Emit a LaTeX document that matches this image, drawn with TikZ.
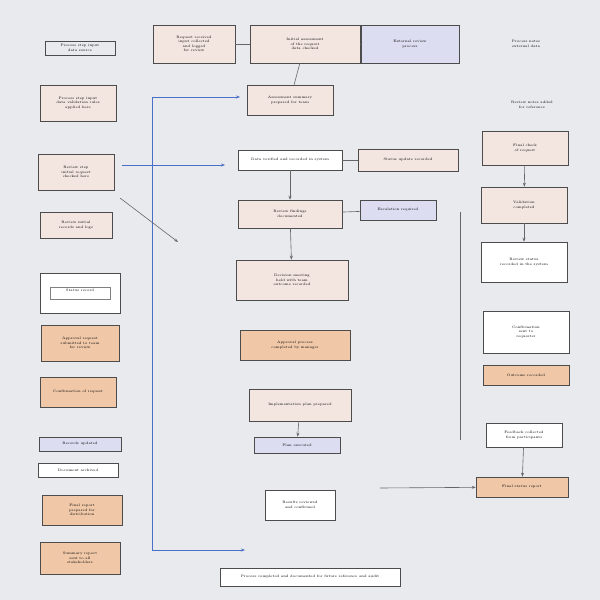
\documentclass[tikz,border=0pt]{standalone}
\usetikzlibrary{arrows.meta}
\definecolor{bg}{HTML}{E9EAEE}
\definecolor{pk}{HTML}{F3E6E0}
\definecolor{og}{HTML}{F0C8A8}
\definecolor{lv}{HTML}{DCDDF0}
\definecolor{bl}{HTML}{4A6FC8}
\tikzset{bx/.style={draw=black!70,line width=0.5pt,font=\fontsize{3.5}{4.5}\selectfont,align=center,inner sep=1pt},
lk/.style={draw=black!60,line width=0.6pt},
bk/.style={draw=bl,line width=0.8pt}}
\newcommand\bb[6]{\node[bx,fill=#5,minimum width=#3,minimum height=#4] (#1) at #2 {#6};}
\begin{document}
\begin{tikzpicture}[x=1pt,y=-1pt]
\fill[bg] (0,0) rectangle (600,600);
\useasboundingbox (0,0) rectangle (600,600);
% left column
\bb{l1}{(80,48)}{70}{14}{bg}{Process step input\\data source}
\bb{l2}{(78,103)}{76}{36}{pk}{Process step input\\data validation rules\\applied here}
\bb{l3}{(76,172)}{76}{36}{pk}{Review step\\initial request\\checked here}
\bb{l4}{(76,225)}{72}{26}{pk}{Review initial\\records and logs}
\bb{l5}{(80,293)}{80}{40}{white}{Status record\\}
\node[draw=black!50,minimum width=60,minimum height=12] (l5i) at (80,293) {};
\bb{l6}{(80,343)}{78}{36}{og}{Approval request\\submitted to team\\for review}
\bb{l7}{(78,392)}{76}{30}{og}{Confirmation of request}
\bb{l8}{(80,444)}{82}{14}{lv}{Records updated}
\bb{l9}{(78,470)}{80}{14}{white}{Document archived}
\bb{l10}{(82,510)}{80}{30}{og}{Final report\\prepared for\\distribution}
\bb{l11}{(80,558)}{80}{32}{og}{Summary report\\sent to all\\stakeholders}
% middle
\bb{m1}{(194,44)}{82}{38}{pk}{Request received\\input collected\\and logged\\for review}
\bb{m2}{(305,44)}{110}{38}{pk}{Initial assessment\\of the request\\data checked}
\bb{m3}{(410,44)}{98}{38}{lv}{External review\\process}
\node[font=\fontsize{3.5}{4.5}\selectfont,align=center] (t1) at (526,44) {Process notes\\external data};
\bb{m4}{(290,100)}{86}{30}{pk}{Assessment summary\\prepared for team}
\bb{m5}{(290,160)}{104}{20}{white}{Data verified and recorded in system}
\bb{m6}{(408,160)}{100}{22}{pk}{Status update recorded}
\bb{m7}{(290,214)}{104}{28}{pk}{Review findings\\documented}
\bb{m8}{(398,210)}{76}{20}{lv}{Escalation required}
\bb{m9}{(292,280)}{112}{40}{pk}{Decision meeting\\held with team\\outcome recorded}
\bb{m10}{(295,345)}{110}{30}{og}{Approval process\\completed by manager}
\bb{m11}{(300,405)}{102}{32}{pk}{Implementation plan prepared}
\bb{m12}{(297,445)}{86}{16}{lv}{Plan executed}
\bb{m13}{(300,505)}{70}{30}{white}{Results reviewed\\and confirmed}
\bb{m14}{(310,577)}{180}{18}{white}{Process completed and documented for future reference and audit}
% right
\node[font=\fontsize{3.5}{4.5}\selectfont,align=center] (t2) at (532,105) {Review notes added\\for reference};
\bb{r1}{(525,148)}{86}{34}{pk}{Final check\\of request}
\bb{r2}{(524,205)}{86}{36}{pk}{Validation\\completed}
\bb{r3}{(524,262)}{86}{40}{white}{Review status\\recorded in the system}
\bb{r4}{(526,332)}{86}{42}{white}{Confirmation\\sent to\\requester}
\bb{r5}{(526,375)}{86}{20}{og}{Outcome recorded}
\bb{r6}{(524,435)}{76}{24}{white}{Feedback collected\\from participants}
\bb{r7}{(522,487)}{92}{20}{og}{Final status report}
% connectors
\draw[lk] (m1) -- (m2); \draw[lk] (m2) -- (m3);
\draw[lk] (m2) -- (m4);
\draw[lk] (m5) -- (m6);
\draw[lk,-{Stealth[length=4pt]}] (m5) -- (m7);
\draw[lk] (m7) -- (m8);
\draw[lk,-{Stealth[length=4pt]}] (m7) -- (m9);
\draw[lk,-{Stealth[length=4pt]}] (m11) -- (m12);
\draw[lk,-{Stealth[length=4pt]}] (r1) -- (r2);
\draw[lk,-{Stealth[length=4pt]}] (r2) -- (r3);
\draw[lk,-{Stealth[length=4pt]}] (r6) -- (r7);
\coordinate (v1) at (460,212); \coordinate (v2) at (460,440);
\draw[lk] (v1) -- (v2);
\coordinate (a0) at (380,488);
\draw[lk,-{Stealth[length=4pt]}] (a0) -- (r7);
\coordinate (b1) at (152,97); \coordinate (b2) at (152,550);
\coordinate (b3) at (240,97); \coordinate (b4) at (245,550);
\draw[bk] (b1) -- (b2);
\draw[bk,-{Stealth[length=4pt]}] (b1) -- (b3);
\draw[bk,-{Stealth[length=4pt]}] (b2) -- (b4);
\coordinate (c1) at (122,165); \coordinate (c2) at (225,165);
\draw[bk,-{Stealth[length=4pt]}] (c1) -- (c2);
\coordinate (d1) at (120,198); \coordinate (d2) at (178,242);
\draw[lk,-{Stealth[length=4pt]}] (d1) -- (d2);
\end{tikzpicture}
\end{document}
